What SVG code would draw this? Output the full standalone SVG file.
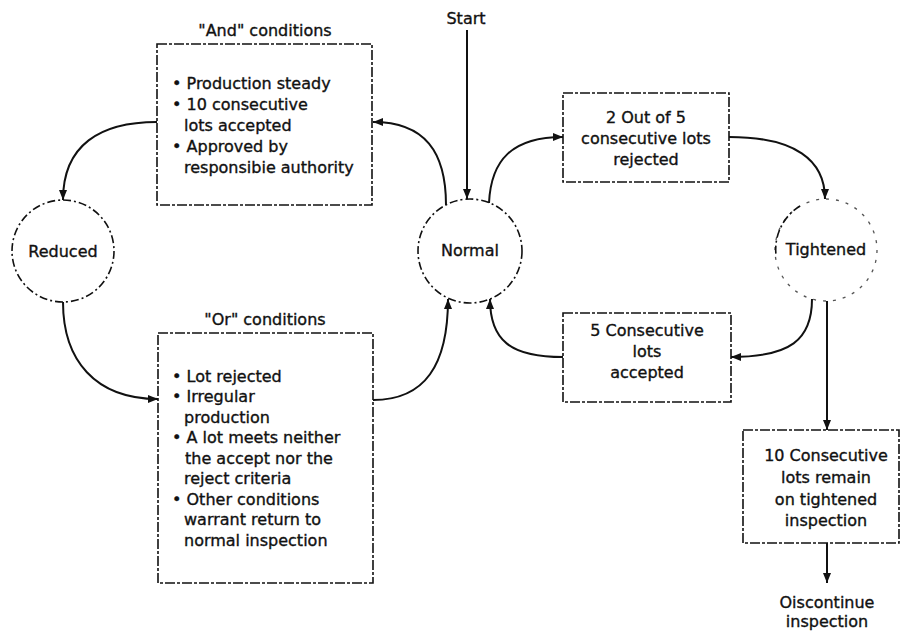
<svg xmlns="http://www.w3.org/2000/svg" width="902" height="633" viewBox="0 0 902 633">
<defs>
<marker id="ah" markerUnits="userSpaceOnUse" markerWidth="10" markerHeight="8" refX="10" refY="4" orient="auto">
<path d="M0,0 L10,4 L0,8 z" fill="#111"/>
</marker>
<style>
text{font-family:"DejaVu Sans","Liberation Sans",sans-serif;font-size:16px;fill:#111;stroke:#111;stroke-width:0.35}
.c{text-anchor:middle}
.box{fill:none;stroke:#111;stroke-width:1.6;stroke-dasharray:10 2 3 2}
.node{fill:none;stroke:#111;stroke-width:1.6;stroke-dasharray:8 3 2 3}
.faint{fill:none;stroke:#555;stroke-width:1.3;stroke-dasharray:3 7}
.edge{fill:none;stroke:#111;stroke-width:2;marker-end:url(#ah)}
</style>
</defs>
<rect width="902" height="633" fill="#fff"/>

<g id="start"><text class="c" x="466" y="24">Start</text></g>

<g id="and-conditions">
<text class="c" x="265" y="36">"And" conditions</text>
<rect class="box" x="157" y="44" width="215" height="161"/>
<text x="172" y="89">• Production steady</text>
<text x="172" y="110">• 10 consecutive</text>
<text x="184" y="131">lots accepted</text>
<text x="172" y="152">• Approved by</text>
<text x="184" y="173">responsibie authority</text>
</g>

<g id="reduced">
<circle class="node" cx="63" cy="251" r="51"/>
<text class="c" x="63" y="257">Reduced</text>
</g>

<g id="normal">
<circle class="node" cx="470" cy="251" r="52"/>
<text class="c" x="470" y="256">Normal</text>
</g>

<g id="tightened">
<circle class="faint" cx="826" cy="250" r="51"/>
<path class="node" d="M800,206 A51,51 0 0 0 776,255"/>
<text class="c" x="826" y="255">Tightened</text>
</g>

<g id="or-conditions">
<text class="c" x="265" y="325">"Or" conditions</text>
<rect class="box" x="158" y="333" width="215" height="250"/>
<text x="172" y="382">• Lot rejected</text>
<text x="172" y="402">• Irregular</text>
<text x="184" y="423">production</text>
<text x="172" y="443">• A lot meets neither</text>
<text x="185" y="464">the accept nor the</text>
<text x="184" y="484">reject criteria</text>
<text x="172" y="505">• Other conditions</text>
<text x="184" y="525">warrant return to</text>
<text x="184" y="546">normal inspection</text>
</g>

<g id="two-of-five">
<rect class="box" x="563" y="93" width="166" height="89"/>
<text class="c" x="646" y="123">2 Out of 5</text>
<text class="c" x="646" y="144">consecutive lots</text>
<text class="c" x="646" y="165">rejected</text>
</g>

<g id="five-accepted">
<rect class="box" x="563" y="313" width="168" height="89"/>
<text class="c" x="647" y="336">5 Consecutive</text>
<text class="c" x="647" y="357">lots</text>
<text class="c" x="647" y="378">accepted</text>
</g>

<g id="ten-remain">
<rect class="box" x="743" y="430" width="156" height="113"/>
<text class="c" x="826" y="461">10 Consecutive</text>
<text class="c" x="826" y="483">lots remain</text>
<text class="c" x="826" y="505">on tightened</text>
<text class="c" x="826" y="526">inspection</text>
</g>

<g id="discontinue">
<text class="c" x="827" y="608">Oiscontinue</text>
<text class="c" x="827" y="627">inspection</text>
</g>

<g id="connectors">
<path class="edge" d="M467,30 L467,199"/>
<path class="edge" d="M446,205 C446,152 425,122 373,122"/>
<path class="edge" d="M157,122 C100,122 63,145 63,200"/>
<path class="edge" d="M63,302 C63,360 95,399 158,399"/>
<path class="edge" d="M373,400 C425,400 448,365 448,299"/>
<path class="edge" d="M489,203 C491,160 512,137 563,137"/>
<path class="edge" d="M729,137 C795,137 825,160 825,199"/>
<path class="edge" d="M812,299 C812,340 790,357 731,357"/>
<path class="edge" d="M563,357 C510,357 490,340 490,299"/>
<path class="edge" d="M827,301 L827,430"/>
<path class="edge" d="M827,543 L827,583"/>
</g>
</svg>
